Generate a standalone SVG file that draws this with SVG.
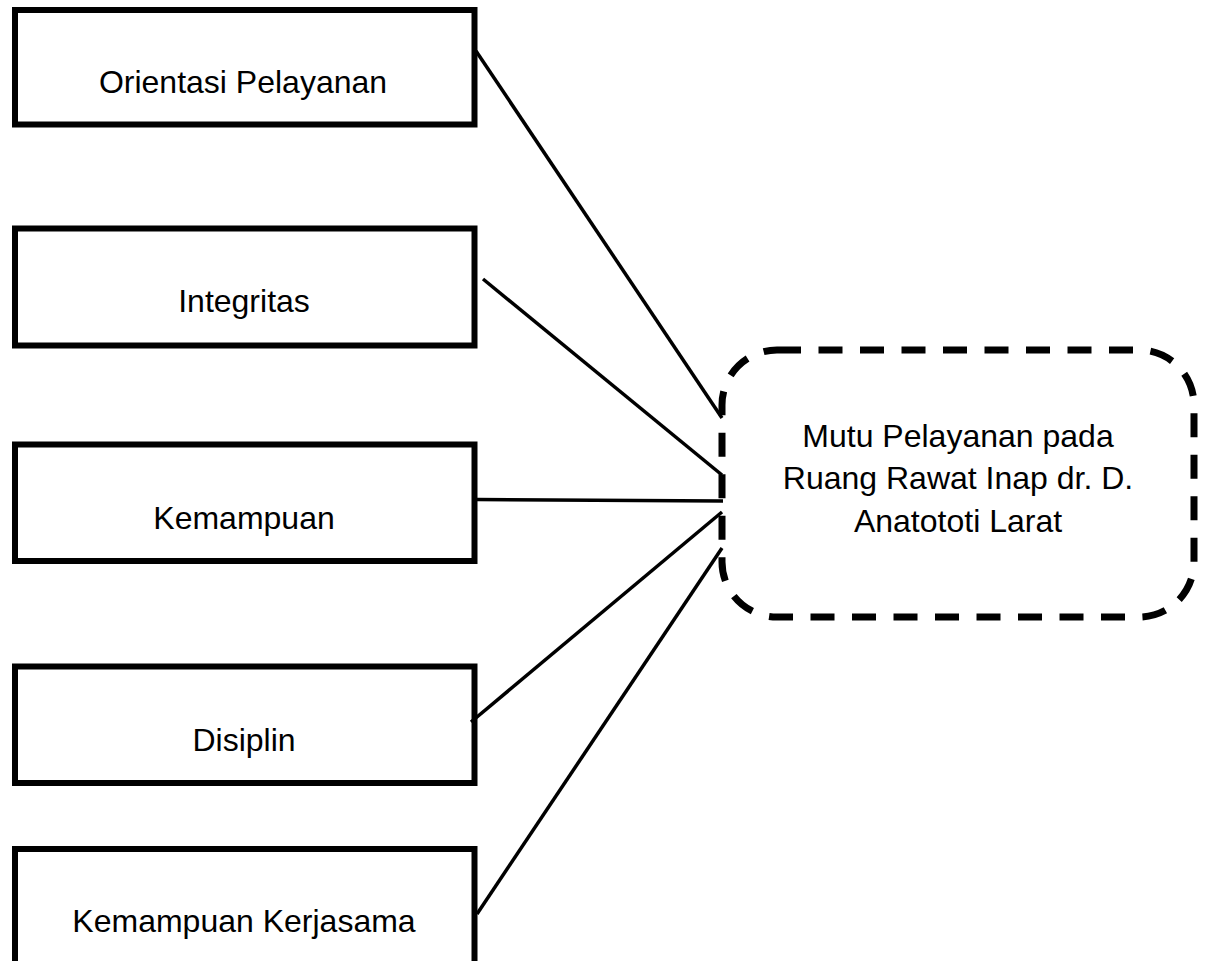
<svg xmlns="http://www.w3.org/2000/svg" width="1208" height="961" viewBox="0 0 1208 961">
<style>
.box{fill:#fff;stroke:#000;stroke-width:6}
.lbl{font-family:"Liberation Sans",Arial,sans-serif;font-size:32px;fill:#000;text-anchor:middle}
.con line{stroke:#000;stroke-width:3.5;stroke-linecap:butt}
.dash{fill:#fff;stroke:#000;stroke-width:7;stroke-dasharray:24 17.5}
</style>
<rect width="1208" height="961" fill="#fff"/>
<g id="n1"><rect class="box" x="15" y="10" width="459.5" height="114.5"/><text class="lbl" x="243" y="93">Orientasi Pelayanan</text></g>
<g id="n2"><rect class="box" x="15" y="228.5" width="459.5" height="117"/><text class="lbl" x="244" y="312">Integritas</text></g>
<g id="n3"><rect class="box" x="15" y="444.5" width="459.5" height="116.5"/><text class="lbl" x="244" y="529">Kemampuan</text></g>
<g id="n4"><rect class="box" x="15" y="666.5" width="459.5" height="116.5"/><text class="lbl" x="244" y="751">Disiplin</text></g>
<g id="n5"><rect class="box" x="15" y="849" width="459.5" height="130"/><text class="lbl" x="244" y="932">Kemampuan Kerjasama</text></g>
<g id="target"><rect class="dash" x="722" y="350" width="472" height="267" rx="55" ry="55"/>
<text class="lbl" x="958" y="447">Mutu Pelayanan pada</text>
<text class="lbl" x="958" y="489">Ruang Rawat Inap dr. D.</text>
<text class="lbl" x="958" y="531.5">Anatototi Larat</text></g>
<g id="connectors" class="con">
<line x1="476" y1="51" x2="722" y2="418"/>
<line x1="483" y1="279" x2="722" y2="475"/>
<line x1="477" y1="499.5" x2="723" y2="501"/>
<line x1="471" y1="722" x2="722" y2="512"/>
<line x1="477" y1="914" x2="722" y2="548"/>
</g>
</svg>
